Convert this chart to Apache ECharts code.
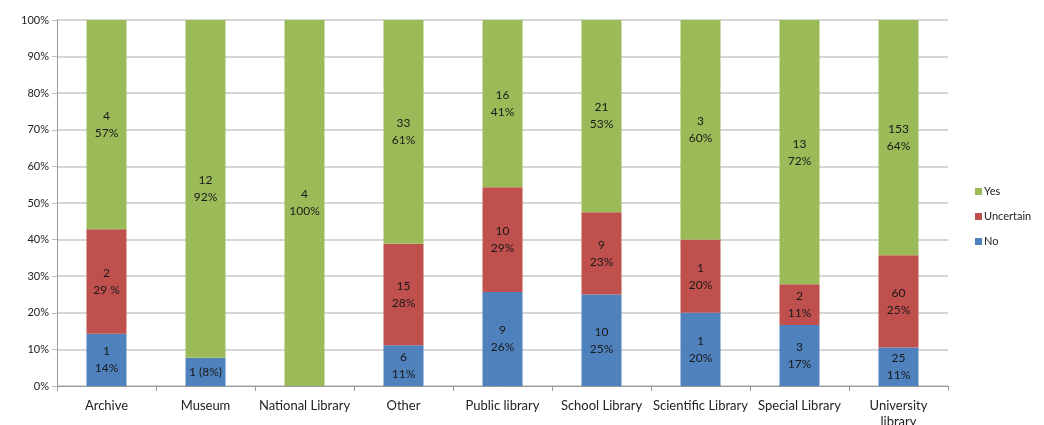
<!DOCTYPE html>
<html><head><meta charset="utf-8">
<script src="https://cdn.jsdelivr.net/npm/echarts@6/dist/echarts.min.js"></script>
<style>html,body{margin:0;padding:0;background:#fff}#c{width:1044px;height:425px}</style>
</head><body><div id="c"></div>
<script>
const categories = ['Archive','Museum','National Library','Other','Public library','School Library','Scientific Library','Special Library','University library'];
const noCounts = [1,1,0,6,9,10,1,3,25];
const uncertainCounts = [2,0,0,15,10,9,1,2,60];
const yesCounts = [4,12,4,33,16,21,3,13,153];
const noLabels = ['1\n14%','1 (8%)','','6\n11%','9\n26%','10\n25%','1\n20%','3\n17%','25\n11%'];
const uncertainLabels = ['2\n29 %','','','15\n28%','10\n29%','9\n23%','1\n20%','2\n11%','60\n25%'];
const yesLabels = ['4\n57%','12\n92%','4\n100%','33\n61%','16\n41%','21\n53%','3\n60%','13\n72%','153\n64%'];
const yTicks = [0,10,20,30,40,50,60,70,80,90,100];

const totals = categories.map((_, i) => noCounts[i] + uncertainCounts[i] + yesCounts[i]);
const share = arr => arr.map((v, i) => v / totals[i] * 100);
const FONT = 'Lato';

function mkSeries(name, counts, labels, color) {
  return {
    name, type: 'bar', stack: 'all', barWidth: 40,
    itemStyle: { color },
    data: share(counts),
    label: {
      show: true, position: 'inside', color: '#1a1a1a', fontFamily: FONT, fontSize: 12, lineHeight: 17,
      formatter: p => labels[p.dataIndex]
    },
    emphasis: { disabled: true }
  };
}

const chart = echarts.init(document.getElementById('c'));
chart.setOption({
  animation: false,
  grid: { left: 57, right: 96, top: 20, bottom: 39, containLabel: false, outerBoundsMode: 'none' },
  legend: {
    data: ['Yes','Uncertain','No'], orient: 'vertical', left: 970, top: 181,
    itemWidth: 7, itemHeight: 7, itemGap: 14, icon: 'rect',
    textStyle: { fontFamily: FONT, fontSize: 11, color: '#222', padding: [0,0,0,-3] }
  },
  xAxis: {
    type: 'category', data: categories,
    axisLine: { lineStyle: { color: '#9a9a9a', width: 1 } },
    axisTick: { show: true, alignWithLabel: false, length: 5, lineStyle: { color: '#9a9a9a' } },
    axisLabel: {
      fontFamily: FONT, fontSize: 13, color: '#222', margin: 12, lineHeight: 16, interval: 0,
      formatter: v => v.startsWith('University') ? v.replace(' ', '\n') : v
    }
  },
  yAxis: {
    type: 'value', min: 0, max: 100, interval: 10,
    axisLine: { show: true, lineStyle: { color: '#9a9a9a' } },
    axisTick: { show: true, length: 5, lineStyle: { color: '#bdbdbd' } },
    splitLine: { lineStyle: { color: '#c8c8c8', width: 1.5 } },
    axisLabel: { formatter: v => yTicks.includes(v) ? v + '%' : '', fontFamily: FONT, fontSize: 11, color: '#222', margin: 8 }
  },
  series: [
    mkSeries('No', noCounts, noLabels, '#4F81BD'),
    mkSeries('Uncertain', uncertainCounts, uncertainLabels, '#C0504D'),
    mkSeries('Yes', yesCounts, yesLabels, '#9BBB59')
  ]
});
</script></body></html>
